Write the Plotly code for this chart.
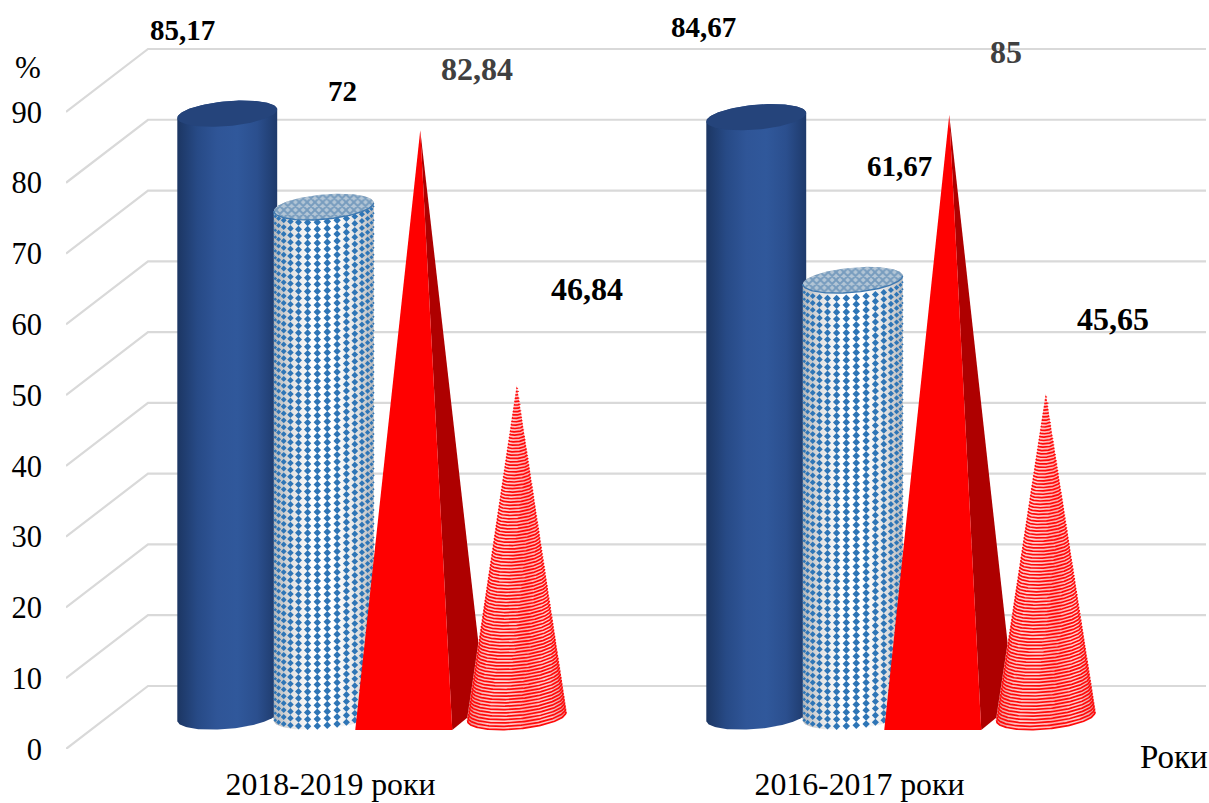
import math
import numpy as np
import plotly.graph_objects as go

# Chart data
categories = ["2018-2019 роки", "2016-2017 роки"]
solid_cylinder = [85.17, 84.67]
dotted_cylinder = [72, 61.67]
pyramid = [82.84, 85]
striped_cone = [46.84, 45.65]
y_ticks = [0, 10, 20, 30, 40, 50, 60, 70, 80, 90]

# Scale of the axes and the oblique projection of the depth direction
PX_X = 529.0
PX_Y = 7.078
PLOT_W = 1140
PLOT_H = 749
DEPTH_X = 82 / PX_X
DEPTH_Y = 63 / PX_Y
SERIES_STEP = 96.5 / PX_X
HALF_W = 48.5 / PX_X
HALF_DX = 16.5 / PX_X
HALF_DY = 13.5 / PX_Y
ROUND_SCALE = 0.975
BASE_X = DEPTH_X / 2 + 0.5 / PX_X
BASE_Y = 4.59
SERIF = "Liberation Serif"
GRID = "#d9d9d9"


def centre_x(group, series):
    return group + (series - 1.5) * SERIES_STEP + BASE_X


def ring(cx, level, t):
    """Points of a horizontal circle seen in the oblique projection."""
    return (cx + ROUND_SCALE * (HALF_W * np.cos(t) + HALF_DX * np.sin(t)),
            BASE_Y + level + ROUND_SCALE * HALF_DY * np.sin(t))


def poly(x, y, **kw):
    return go.Scatter(x=list(x), y=list(y), mode="lines", fill="toself",
                      line=dict(width=0), hoverinfo="skip", showlegend=False, **kw)


def grad(stops):
    n = len(stops) - 1
    return dict(type="horizontal", colorscale=[[i / n, c] for i, c in enumerate(stops)])


T_EDGE = math.atan2(HALF_DX, HALF_W)
FRONT = np.linspace(T_EDGE, T_EDGE - math.pi, 90)
BACK = np.linspace(T_EDGE + math.pi, T_EDGE, 90)
FULL = np.linspace(0, 2 * math.pi, 160)

fig = go.Figure()

# Gridlines on the back wall and the left wall
gx, gy = [], []
for v in y_ticks:
    gx += [-0.5, -0.5 + DEPTH_X, 1.5 + DEPTH_X, None]
    gy += [v, v + DEPTH_Y, v + DEPTH_Y, None]
fig.add_trace(go.Scatter(x=gx, y=gy, mode="lines", line=dict(color=GRID, width=2.2),
                         hoverinfo="skip", showlegend=False))


def add_cylinder_body(cx, value, stops):
    bx, by = ring(cx, 0, FRONT)
    tx, ty = ring(cx, value, BACK)
    fig.add_trace(poly(np.r_[bx, tx], np.r_[by, ty], fillgradient=grad(stops)))


def add_solid(cx, value):
    add_cylinder_body(cx, value, ["#1c3663", "#274a86", "#2f5597", "#30589b", "#2b4f8e", "#1e3a6b"])
    x, y = ring(cx, value, FULL)
    fig.add_trace(poly(x, y, fillcolor="#25447b"))


def add_dotted(cx, value):
    add_cylinder_body(cx, value, ["#b4b7bb", "#e6e6e6", "#ffffff", "#ffffff", "#e9e9e9", "#b4b7bb"])
    # Diamond texture wrapped around the front of the cylinder
    mx, my, ms = [], [], []
    col_step = 10.0 / 50.0
    row_step = 6.9 / PX_Y
    n_cols = int(math.pi / col_step)
    for c in range(n_cols + 1):
        t = T_EDGE - (c + 0.5) * col_step
        if t < T_EDGE - math.pi:
            continue
        z = row_step / 2
        while z < value - 0.2:
            px, py = ring(cx, z, np.array(t))
            frac = (px - cx) / (ROUND_SCALE * math.hypot(HALF_W, HALF_DX))
            mx.append(float(px))
            my.append(float(py))
            ms.append(5.8 * (1 - frac * frac) ** 0.25)
            z += row_step
    fig.add_trace(go.Scatter(x=mx, y=my, mode="markers", hoverinfo="skip", showlegend=False,
                             marker=dict(symbol="diamond", size=ms, color="#2e75b6", opacity=1,
                                         line=dict(width=0))))
    x, y = ring(cx, value, FULL)
    fig.add_trace(poly(x, y, fillcolor="#7fa3c2",
                       fillpattern=dict(shape="x", size=5.5, solidity=0.6,
                                        fgcolor="#3a72a6", bgcolor="#b4c6d6")))
    rx, ry = ring(cx, value, FRONT)
    fig.add_trace(go.Scatter(x=rx, y=ry, mode="lines", hoverinfo="skip", showlegend=False,
                             line=dict(color="#3d78b0", width=1.4)))


def add_pyramid(cx, value):
    apex_y = BASE_Y + value
    fl = (cx - HALF_W - HALF_DX, BASE_Y - HALF_DY)
    fr = (cx + HALF_W - HALF_DX, BASE_Y - HALF_DY)
    br = (cx + HALF_W + HALF_DX, BASE_Y + HALF_DY)
    fig.add_trace(poly([fr[0], br[0], cx, fr[0]], [fr[1], br[1], apex_y, fr[1]], fillcolor="#ae0000"))
    fig.add_trace(poly([fl[0], fr[0], cx, fl[0]], [fl[1], fr[1], apex_y, fl[1]], fillcolor="#ff0000"))


def add_cone(cx, value):
    apex_y = BASE_Y + value
    t = np.linspace(-math.pi * 1.5, math.pi * 0.5, 720)
    ex, ey = ring(cx, 0, t)
    # Silhouette: the base points where the lines from the apex touch the ellipse
    slope = (ex - cx) / (apex_y - ey)
    t_right, t_left = t[int(np.argmax(slope))], t[int(np.argmin(slope))]
    arc = np.linspace(t_left, t_left + ((t_right - t_left) % (2 * math.pi)), 120)
    ax, ay = ring(cx, 0, arc)
    if ay.mean() > BASE_Y:
        arc = np.linspace(t_right, t_right + ((t_left - t_right) % (2 * math.pi)), 120)
        ax, ay = ring(cx, 0, arc)
    fig.add_trace(poly(np.r_[ax, cx], np.r_[ay, apex_y],
                       fillgradient=grad(["#e88f8f", "#ffc4c4", "#ffd0d0", "#ffa8a8", "#ffd0d0", "#e88f8f"])))
    # Horizontal bands of the striped texture follow the curve of the base
    lx, ly = [], []
    band = 3.2 / PX_Y
    n = int(value / band)
    for i in range(n):
        s = 1 - i / n
        lx += list(cx + 0.985 * s * (ax - cx)) + [None]
        ly += list(apex_y + s * (ay - apex_y)) + [None]
    fig.add_trace(go.Scatter(x=lx, y=ly, mode="lines", hoverinfo="skip", showlegend=False,
                             line=dict(color="#ff0a0a", width=1.7)))


series_draw = [(solid_cylinder, add_solid), (dotted_cylinder, add_dotted),
               (pyramid, add_pyramid), (striped_cone, add_cone)]
for g in range(len(categories)):
    for s, (values, draw) in enumerate(series_draw):
        draw(centre_x(g, s), values[g])

# Data labels, offset from the top of their marks (pixels right, pixels up)
label_offsets = {
    (0, 0): (-45, 84), (0, 1): (18.5, 116), (0, 2): (57, 61), (0, 3): (70, 96),
    (1, 0): (-53, 90), (1, 1): (47, 114), (1, 2): (57, 63), (1, 3): (67, 74),
}
label_sizes = {(0, 2): 32, (0, 3): 32, (1, 2): 32, (1, 3): 32}
annotations = []
for g in range(len(categories)):
    for s, (values, _) in enumerate(series_draw):
        dx, dy = label_offsets[(g, s)]
        annotations.append(dict(
            x=centre_x(g, s) + dx / PX_X, y=BASE_Y + values[g] + dy / PX_Y,
            text=f"{values[g]:g}".replace(".", ","), showarrow=False, xanchor="center", yanchor="middle",
            font=dict(family=SERIF, size=label_sizes.get((g, s), 29), weight=700,
                      color="#404040" if s == 2 else "#000000")))

# Axis captions sit outside the axis ranges, so they are placed in paper coordinates
annotations.append(dict(xref="paper", yref="paper", x=-38 / PLOT_W, y=(PLOT_H - 68) / PLOT_H,
                        text="%", showarrow=False, xanchor="center", yanchor="middle",
                        font=dict(family=SERIF, size=31, color="#000000")))
annotations.append(dict(xref="paper", yref="paper", x=(1174 - 66) / PLOT_W, y=(PLOT_H - 757) / PLOT_H,
                        text="Роки", showarrow=False, xanchor="center", yanchor="middle",
                        font=dict(family=SERIF, size=33, color="#000000")))

fig.update_layout(
    width=1209, height=803, autosize=False,
    margin=dict(l=66, r=3, t=0, b=54, pad=0),
    paper_bgcolor="white", plot_bgcolor="white", showlegend=False,
    annotations=annotations,
    xaxis=dict(range=[-0.5, -0.5 + PLOT_W / PX_X], tickmode="array", tickvals=[0, 1], ticktext=categories,
               showgrid=False, zeroline=False, showline=False, ticks="", automargin=False,
               ticklabelstandoff=13, tickfont=dict(family=SERIF, size=31.8, color="#000000")),
    yaxis=dict(range=[0, PLOT_H / PX_Y], tickmode="array", tickvals=y_ticks,
               showgrid=False, zeroline=False, showline=False, ticks="", automargin=False,
               ticklabelstandoff=23, tickfont=dict(family=SERIF, size=30.5, color="#000000")),
)

fig.write_html("out.html")
